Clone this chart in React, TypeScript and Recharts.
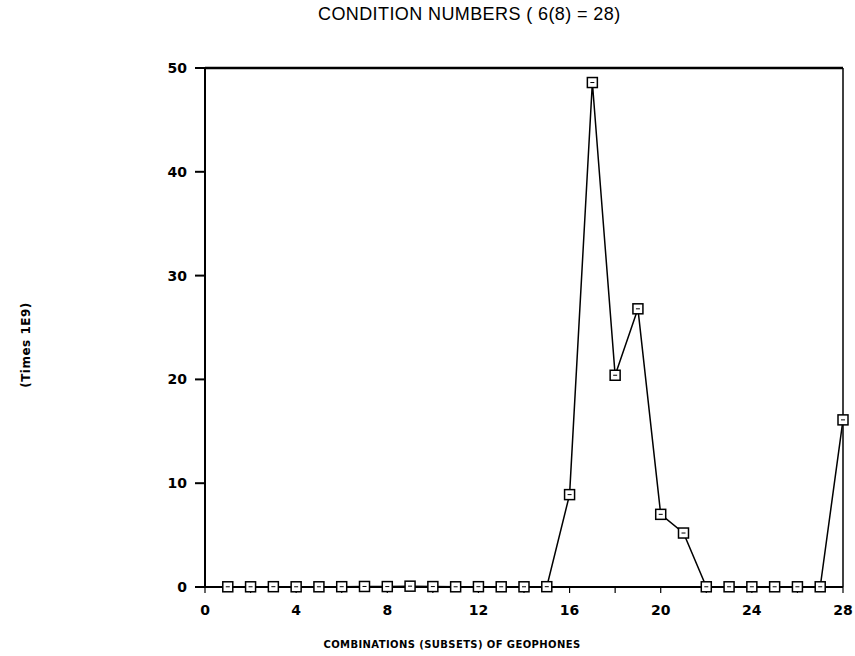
import React from 'react';
import { Line, LineChart, XAxis, YAxis } from 'recharts';

// subset index 1..28 and condition number (times 1E9)
const subsets = [1, 2, 3, 4, 5, 6, 7, 8, 9, 10, 11, 12, 13, 14, 15, 16, 17, 18, 19, 20, 21, 22, 23, 24, 25, 26, 27, 28];
const condNumbers = [0.02, 0.02, 0.03, 0.02, 0.02, 0.03, 0.05, 0.04, 0.08, 0.04, 0.02, 0.03, 0.02, 0.02, 0.03, 8.9, 48.6, 20.4, 26.8, 7.0, 5.2, 0.02, 0.02, 0.02, 0.02, 0.02, 0.02, 16.1];
const xTicks = [0, 2, 4, 6, 8, 10, 12, 14, 16, 18, 20, 22, 24, 26, 28];
const yTicks = [0, 10, 20, 30, 40, 50];

const data = subsets.map((s, i) => ({ s, v: condNumbers[i] }));

const SquareDot = (props: any) => {
  const { cx, cy } = props;
  if (cx == null || cy == null) return null;
  return (
    <g>
      <rect x={cx - 5} y={cy - 5} width={10} height={10} fill="#fff" stroke="#000" strokeWidth={1.5} />
      <line x1={cx - 2} y1={cy} x2={cx + 2} y2={cy} stroke="#000" strokeWidth={1} />
    </g>
  );
};

const tickStyle = { fill: '#000', fontSize: 14, fontWeight: 700, fontFamily: 'DejaVu Sans, sans-serif' };

const App: React.FC = () => {
  return (
    <div style={{ position: 'absolute', left: 0, top: 0, width: 855, height: 656, background: '#fff', fontFamily: 'DejaVu Sans, sans-serif' }}>
      <div style={{ position: 'absolute', left: 318, top: 4, fontSize: 18, letterSpacing: 0.4, color: '#000', fontFamily: 'Liberation Sans, sans-serif', whiteSpace: 'nowrap' }}>
        CONDITION NUMBERS ( 6(8) = 28)
      </div>
      <div style={{ position: 'absolute', left: 26, top: 345, transform: 'translate(-50%, -50%) rotate(-90deg)', fontSize: 12, fontWeight: 700, letterSpacing: 0.5, whiteSpace: 'nowrap' }}>
        (Times 1E9)
      </div>
      <div style={{ position: 'absolute', left: 452, top: 639, transform: 'translateX(-50%)', fontSize: 10, fontWeight: 700, whiteSpace: 'nowrap', letterSpacing: 0.4 }}>
        COMBINATIONS (SUBSETS) OF GEOPHONES
      </div>
      <LineChart width={855} height={656} data={data} margin={{ top: 67, right: 11, bottom: 29, left: 145 }}>
        <XAxis
          dataKey="s"
          type="number"
          domain={[0, 28]}
          ticks={xTicks}
          interval={0}
          height={40}
          tickFormatter={(t: number) => (t % 4 === 0 ? String(t) : '')}
          tick={tickStyle}
          tickSize={6}
          tickMargin={12}
          axisLine={{ stroke: '#000', strokeWidth: 2 }}
          tickLine={{ stroke: '#000', strokeWidth: 1.2 }}
        />
        <XAxis xAxisId="top" orientation="top" type="number" domain={[0, 28]} tick={false} tickLine={false} height={1} axisLine={{ stroke: '#000', strokeWidth: 2.5 }} />
        <YAxis
          type="number"
          domain={[0, 50]}
          ticks={yTicks}
          interval={0}
          width={60}
          tick={tickStyle}
          tickSize={10}
          tickMargin={8}
          axisLine={{ stroke: '#000', strokeWidth: 2 }}
          tickLine={{ stroke: '#000', strokeWidth: 2 }}
        />
        <YAxis yAxisId="right" orientation="right" type="number" domain={[0, 50]} tick={false} tickLine={false} width={1} axisLine={{ stroke: '#000', strokeWidth: 1.5 }} />
        <Line
          type="linear"
          dataKey="v"
          stroke="#000"
          strokeWidth={1.5}
          dot={<SquareDot />}
          activeDot={false}
          isAnimationActive={false}
        />
      </LineChart>
    </div>
  );
};

export default App;
